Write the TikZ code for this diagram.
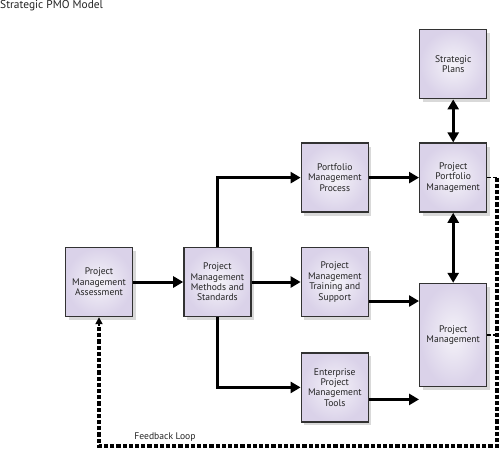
\documentclass[tikz,border=0pt]{standalone}
\usepackage{fontspec}
\setmainfont{PT Sans}
\usetikzlibrary{arrows.meta, positioning, shadows}
\definecolor{boxlav}{RGB}{218,210,233}
\definecolor{boxmid}{RGB}{245,243,249}
\definecolor{boxline}{RGB}{50,50,50}
\definecolor{boxtext}{RGB}{35,35,35}

\begin{document}
\begin{tikzpicture}[x=1pt, y=1pt, node distance=50pt,
  block/.style={draw=boxline, line width=1.4pt, inner color=boxmid, outer color=boxlav,
                minimum width=67pt, minimum height=69pt, align=center, text=boxtext,
                inner sep=1pt, font=\fontsize{9.6}{10.4}\selectfont,
                drop shadow={shadow xshift=3pt, shadow yshift=-3.5pt, opacity=0.3}},
  arrow/.style={-{Triangle[length=10pt, width=11pt]}, line width=3pt},
  biarrow/.style={{Triangle[length=10pt, width=11pt]}-{Triangle[length=10pt, width=11pt]}, line width=3pt},
  feedback/.style={dash pattern=on 4.2pt off 2pt, line width=3.2pt},
  stub/.style={dash pattern=on 3.5pt off 2.5pt, line width=1.7pt}]

  \useasboundingbox (0,0) rectangle (500,-448);

  \node[anchor=north west, inner sep=0pt, text=boxtext, font=\fontsize{11.4}{13}\selectfont]
        (title) at (0,-0.5) {Strategic PMO Model};

  \node[block] (assess) at (99,-282) {Project\\Management\\Assessment};
  \node[block, right=of assess]          (methods) {Project\\Management\\Methods and\\Standards};
  \node[block, right=49pt of methods]    (train)   {Project\\Management\\Training and\\Support};
  \node[block, above=34pt of train]      (pmp)     {Portfolio\\Management\\Process};
  \node[block, below=35pt of train]      (tools)   {Enterprise\\Project\\Management\\Tools};
  \node[block, right=of pmp]             (ppm)     {Project\\Portfolio\\Management};
  \node[block, above=43pt of ppm]        (plans)   {Strategic\\Plans};
  \node[block, below=70pt of ppm, minimum height=103pt] (pm) {Project\\Management};

  \coordinate (fbcorner) at (497,-446);
  \coordinate (fbleft)   at (99,-446);

  \draw[arrow] (assess) -- (methods);
  \draw[arrow] (methods) -- (train);
  \draw[arrow] (methods.north) |- (pmp.west);
  \draw[arrow] (methods.south) |- (tools.west);
  \draw[arrow] (pmp) -- (ppm);
  \draw[biarrow] (plans) -- (ppm);
  \draw[biarrow] (ppm) -- (pm);
  \draw[arrow] ([yshift=-19pt]train.east) -- ([yshift=-19pt]train.east -| pm.west);
  \draw[arrow] ([yshift=-12pt]tools.east) -- ([yshift=-12pt]tools.east -| pm.west);

  % feedback loop
  \draw[stub] (ppm.east) -- (ppm.east -| fbcorner);
  \draw[stub] (pm.east) -- (pm.east -| fbcorner);
  \draw[feedback] (ppm.east -| fbcorner) -- (fbcorner) -- (fbleft)
        -- ([yshift=-9pt]assess.south);
  \draw[-{Triangle[length=7pt, width=7pt]}, line width=2.2pt]
        ([yshift=-9pt]assess.south) -- (assess.south);
  \node[text=boxtext, font=\fontsize{9.6}{11}\selectfont] (fblabel) at (165,-437) {Feedback Loop};
\end{tikzpicture}
\end{document}
